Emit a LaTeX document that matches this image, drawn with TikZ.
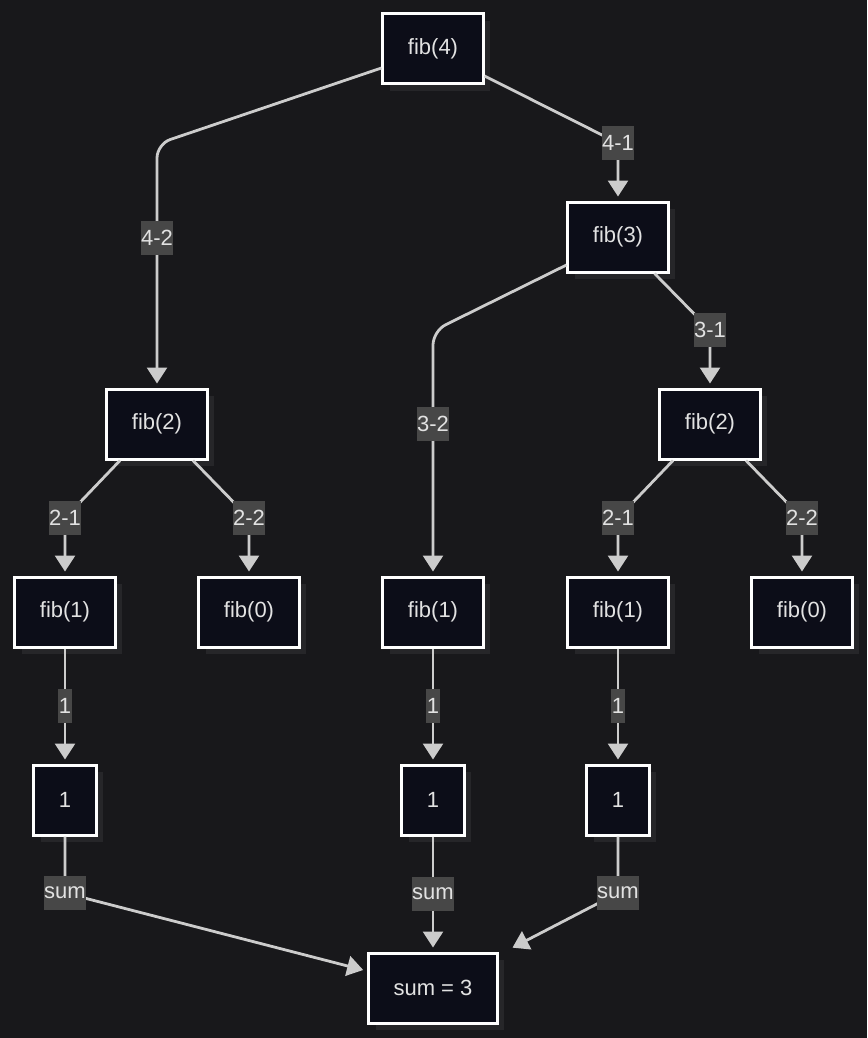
\documentclass[tikz,border=0pt]{standalone}
\usepackage{fontspec}
\setmainfont{Liberation Sans}
\usetikzlibrary{arrows.meta,shadows}
\definecolor{bgcol}{RGB}{24,24,27}
\definecolor{nodefill}{RGB}{12,13,24}
\definecolor{shadowcol}{RGB}{38,38,41}
\definecolor{edgecol}{RGB}{204,204,204}
\definecolor{lblfill}{RGB}{71,71,71}
\definecolor{txtcol}{RGB}{226,226,226}
\tikzset{
  box/.style={rectangle, draw=white, line width=3pt, fill=nodefill, text=txtcol,
    inner xsep=25pt, inner ysep=0pt, minimum height=70pt,
    font=\fontsize{22}{26}\selectfont,
    drop shadow={shadow xshift=7pt, shadow yshift=-7pt, fill=shadowcol, opacity=1}},
  edge/.style={draw=edgecol, line width=2.8pt, shorten >=4pt,
    -{Triangle[width=20pt,length=16pt]}},
  lbl/.style={sharp corners, fill=lblfill, text=txtcol, inner xsep=0.5pt, inner ysep=0pt,
    minimum height=34pt, font=\fontsize{22}{26}\selectfont},
}
\begin{document}
\begin{tikzpicture}[x=1pt,y=-1pt]
\fill[bgcol] (0,0) rectangle (867,1038);
\useasboundingbox (0,0) rectangle (867,1038);

\node[box] (f4) at (433,49) {fib(4)};
\node[box] (f3) at (618,237) {fib(3)};
\node[box] (f2l) at (157,424) {fib(2)};
\node[box] (f2r) at (710,424) {fib(2)};
\node[box] (f1a) at (65,612) {fib(1)};
\node[box] (f0a) at (249,612) {fib(0)};
\node[box] (f1b) at (433,612) {fib(1)};
\node[box] (f1c) at (618,612) {fib(1)};
\node[box] (f0b) at (802,612) {fib(0)};
\node[box] (o1) at (65,800) {1};
\node[box] (o2) at (433,800) {1};
\node[box] (o3) at (618,800) {1};
\node[box] (sum) at (433,988) {sum = 3};

% fib(4) children
\draw[edge, rounded corners=14pt] ([yshift=-19pt]f4.west) -- (157,144) -- node[lbl,pos=0.385]{4-2} (f2l.north);
\draw[edge] ([yshift=-27pt]f4.east) -- (618,143) node[lbl]{4-1} -- (f3.north);
% fib(3) children
\draw[edge, rounded corners=14pt] ([yshift=-28pt]f3.west) -- (433,331) -- node[lbl,pos=0.38]{3-2} (f1b.north);
\draw[edge] ([xshift=-15pt]f3.south east) -- (710,330) node[lbl]{3-1} -- (f2r.north);
% fib(2) children
\draw[edge] ([xshift=-37pt]f2l.south) -- (65,518) node[lbl]{2-1} -- (f1a.north);
\draw[edge] ([xshift=36pt]f2l.south) -- (249,518) node[lbl]{2-2} -- (f0a.north);
\draw[edge] ([xshift=-37pt]f2r.south) -- (618,518) node[lbl]{2-1} -- (f1c.north);
\draw[edge] ([xshift=36pt]f2r.south) -- (802,518) node[lbl]{2-2} -- (f0b.north);
% fib(1) -> 1
\draw[edge] (f1a.south) -- node[lbl]{1} (o1.north);
\draw[edge] (f1b.south) -- node[lbl]{1} (o2.north);
\draw[edge] (f1c.south) -- node[lbl]{1} (o3.north);
% sums
\draw[edge] (o1.south) -- (65,893) node[lbl]{sum} -- ([yshift=17pt]sum.west);
\draw[edge] (o2.south) -- node[lbl]{sum} (sum.north);
\draw[edge] (o3.south) -- (618,893) node[lbl]{sum} -- ([xshift=10pt,yshift=2pt]sum.north east);
\end{tikzpicture}
\end{document}
